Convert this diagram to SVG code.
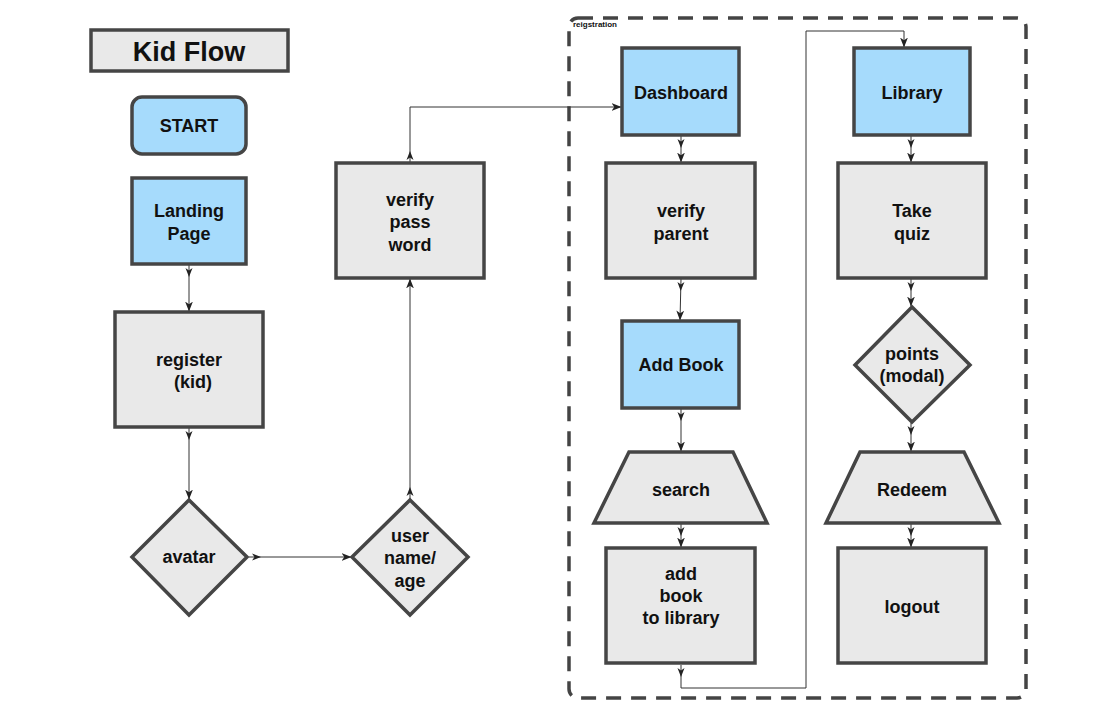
<svg xmlns="http://www.w3.org/2000/svg" width="1100" height="712" viewBox="0 0 1100 712">
<style>
.n{stroke:#454545;stroke-width:3.5;}
.b{fill:#a6dbfc;}
.g{fill:#e9e9e9;}
.t{font-family:"Liberation Sans",Arial,sans-serif;font-weight:bold;font-size:18px;fill:#111;text-anchor:middle;}
.c{fill:none;stroke:#333;stroke-width:1;marker-start:url(#ms);marker-end:url(#me);}
</style>
<defs>
<marker id="me" markerUnits="userSpaceOnUse" markerWidth="10" markerHeight="10" viewBox="0 0 9 8" refX="8.5" refY="4" orient="auto"><path d="M0,0.5 L9,4 L0,7.5 L2.5,4 z" fill="#222"/></marker>
<marker id="ms" markerUnits="userSpaceOnUse" markerWidth="30" markerHeight="10" viewBox="-12 0 30 8" refX="-3" refY="4" orient="auto"><path d="M0,0.5 L9,4 L0,7.5 L2.5,4 z" fill="#222"/></marker>
</defs>
<rect width="1100" height="712" fill="#fff"/>

<g id="container">
<rect x="569" y="18" width="457" height="680" rx="9" fill="none" stroke="#444" stroke-width="3.5" stroke-dasharray="15,10"/>
<text x="573" y="27" style="font-family:'Liberation Sans',Arial,sans-serif;font-weight:bold;font-size:8px;fill:#111">reigstration</text>
</g>

<g id="connectors">
<path class="c" d="M189,265 L189,311"/>
<path class="c" d="M189,428 L189,499"/>
<path class="c" d="M249,557 L351,557"/>
<path class="c" d="M410,499 L410,279"/>
<path class="c" d="M410,163 L410,107 L621,107"/>
<path class="c" d="M681,136 L681,162"/>
<path class="c" d="M681,279 L680,320"/>
<path class="c" d="M681,409 L681,451"/>
<path class="c" d="M681,524 L681,547"/>
<path class="c" d="M681,665 L681,688 L806,688 L806,31 L904,31 L904,47"/>
<path class="c" d="M911,136 L911,162"/>
<path class="c" d="M911,279 L911,306"/>
<path class="c" d="M911,423 L911,451"/>
<path class="c" d="M911,524 L911,547"/>
</g>

<g id="title"><rect class="n g" x="91" y="30" width="197" height="41"/><text class="t" x="189" y="61" style="font-size:27px">Kid Flow</text></g>
<g id="start"><rect class="n b" x="132" y="97" width="114" height="57" rx="10"/><text class="t" x="189" y="132">START</text></g>
<g id="landing"><rect class="n b" x="132" y="178" width="114" height="86"/><text class="t" x="189" y="217">Landing</text><text class="t" x="189" y="240">Page</text></g>
<g id="register"><rect class="n g" x="115" y="312" width="148" height="115"/><text class="t" x="189" y="366">register</text><text class="t" x="193" y="388">(kid)</text></g>
<g id="avatar"><polygon class="n g" points="189,500 247,557 189,615 132,557"/><text class="t" x="189" y="563">avatar</text></g>
<g id="username"><polygon class="n g" points="410,500 468,557 410,615 352,557"/><text class="t" x="410" y="542">user</text><text class="t" x="410" y="564">name/</text><text class="t" x="410" y="587">age</text></g>
<g id="verifypass"><rect class="n g" x="336" y="163" width="148" height="115"/><text class="t" x="410" y="206">verify</text><text class="t" x="410" y="228">pass</text><text class="t" x="410" y="251">word</text></g>
<g id="dashboard"><rect class="n b" x="622" y="48" width="117" height="87"/><text class="t" x="681" y="99">Dashboard</text></g>
<g id="verifyparent"><rect class="n g" x="606" y="163" width="149" height="115"/><text class="t" x="681" y="217">verify</text><text class="t" x="681" y="240">parent</text></g>
<g id="addbook"><rect class="n b" x="622" y="321" width="117" height="87"/><text class="t" x="681" y="371">Add Book</text></g>
<g id="search"><polygon class="n g" points="629,452 733,452 767,523 594,523"/><text class="t" x="681" y="496">search</text></g>
<g id="addtolibrary"><rect class="n g" x="606" y="548" width="149" height="115"/><text class="t" x="681" y="580">add</text><text class="t" x="681" y="602">book</text><text class="t" x="681" y="624">to library</text></g>
<g id="library"><rect class="n b" x="854" y="48" width="116" height="87"/><text class="t" x="912" y="99">Library</text></g>
<g id="takequiz"><rect class="n g" x="838" y="163" width="148" height="115"/><text class="t" x="912" y="217">Take</text><text class="t" x="912" y="240">quiz</text></g>
<g id="points"><polygon class="n g" points="912,307 970,365 912,422 855,365"/><text class="t" x="912" y="360">points</text><text class="t" x="912" y="382">(modal)</text></g>
<g id="redeem"><polygon class="n g" points="860,452 964,452 999,523 826,523"/><text class="t" x="912" y="496">Redeem</text></g>
<g id="logout"><rect class="n g" x="838" y="548" width="148" height="115"/><text class="t" x="912" y="613">logout</text></g>
</svg>
